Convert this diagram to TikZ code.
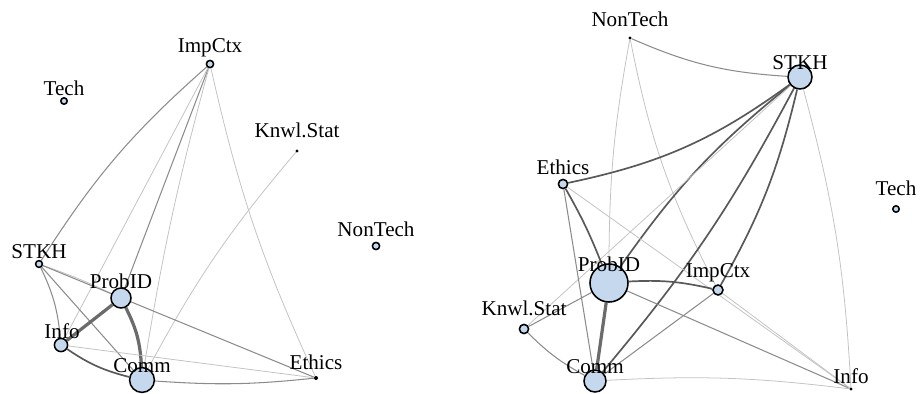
\documentclass[tikz,border=0pt]{standalone}
\usepackage{fontspec}
\setmainfont{Liberation Serif}
\usepackage{tikz}
\usetikzlibrary{backgrounds}
\definecolor{nodeblue}{RGB}{197,216,238}
\tikzset{
  vtx/.style={shape=circle,draw=black,fill=nodeblue,inner sep=0pt,line width=1.1pt},
  dot/.style={shape=circle,fill=black,inner sep=0pt,minimum size=0.08cm},
  lbl/.style={anchor=base,inner sep=0pt,font=\fontsize{15}{15}\selectfont},
  light/.style={draw=black!24,line width=0.55pt},
  mid/.style={draw=black!45,line width=0.75pt},
  dark/.style={draw=black!65,line width=1.2pt},
  heavy/.style={draw=black!58,line width=2.3pt}
}

\begin{document}
\begin{tikzpicture}[x=0.025cm,y=-0.025cm]
\useasboundingbox (0,0) rectangle (922,394);
% left network
\node[vtx,minimum size=0.18cm] (limp) at (210,64) {};
\node[vtx,minimum size=0.16cm] (ltech) at (64,101) {};
\node[dot] (lknwl) at (297,151) {};
\node[vtx,minimum size=0.18cm] (lnon) at (376,246) {};
\node[vtx,minimum size=0.17cm] (lstkh) at (39,264) {};
\node[vtx,minimum size=0.5cm] (lprob) at (121,298) {};
\node[vtx,minimum size=0.33cm] (linfo) at (61,345) {};
\node[vtx,minimum size=0.62cm] (lcomm) at (142,380) {};
\node[dot,minimum size=0.1cm] (leth) at (316,378) {};
% right network
\node[dot] (rnon) at (630,38) {};
\node[vtx,minimum size=0.6cm] (rstkh) at (800,77) {};
\node[vtx,minimum size=0.23cm] (reth) at (563,184) {};
\node[vtx,minimum size=0.16cm] (rtech) at (896,209) {};
\node[vtx,minimum size=0.95cm] (rprob) at (609,283) {};
\node[vtx,minimum size=0.25cm] (rimp) at (718,290) {};
\node[vtx,minimum size=0.23cm] (rknwl) at (524,329) {};
\node[vtx,minimum size=0.55cm] (rcomm) at (595,381) {};
\node[dot] (rinfo) at (851,389) {};
\begin{scope}[on background layer]
\path (limp) edge[mid,bend right=8] (lstkh);
\path (limp) edge[mid] (lprob);
\path (limp) edge[light] (linfo);
\path (limp) edge[light,bend right=3] (lcomm);
\path (limp) edge[light,bend right=6] (leth);
\path (lknwl) edge[light,bend right=6] (lcomm);
\path (lstkh) edge[light,bend left=3] (lprob);
\path (lstkh) edge[mid] (leth);
\path (lstkh) edge[mid] (lcomm);
\path (lstkh) edge[mid,bend left=10] (linfo);
\path (lprob) edge[heavy] (linfo);
\path (lprob) edge[heavy,bend left=12] (lcomm);
\path (linfo) edge[dark,bend right=10] (lcomm);
\path (linfo) edge[light] (leth);
\path (lcomm) edge[mid,bend right=5] (leth);
\path (rnon) edge[mid,bend right=10] (rstkh);
\path (rnon) edge[light,bend right=5] (rprob);
\path (rnon) edge[light,bend right=8] (rimp);
\path (rstkh) edge[dark,bend left=12] (reth);
\path (rstkh) edge[dark,bend right=8] (rprob);
\path (rstkh) edge[light] (rknwl);
\path (rstkh) edge[dark,bend left=6] (rcomm);
\path (rstkh) edge[dark,bend left=8] (rimp);
\path (rstkh) edge[light,bend left=6] (rinfo);
\path (reth) edge[dark,bend left=4] (rprob);
\path (reth) edge[mid] (rcomm);
\path (reth) edge[light] (rinfo);
\path (rprob) edge[dark,bend left=8] (rimp);
\path (rprob) edge[heavy] (rcomm);
\path (rprob) edge[mid] (rinfo);
\path (rknwl) edge[mid] (rprob);
\path (rknwl) edge[mid,bend right=8] (rcomm);
\path (rimp) edge[mid] (rcomm);
\path (rimp) edge[light] (rinfo);
\path (rcomm) edge[light,bend left=5] (rinfo);
\end{scope}
% labels
\node[lbl] (limp-t) at (210,53) {ImpCtx};
\node[lbl] (ltech-t) at (64,96) {Tech};
\node[lbl] (lknwl-t) at (297,138) {Knwl.Stat};
\node[lbl] (lnon-t) at (376,236) {NonTech};
\node[lbl] (lstkh-t) at (39,258) {STKH};
\node[lbl] (lprob-t) at (121,288) {ProbID};
\node[lbl] (linfo-t) at (62,338) {Info};
\node[lbl] (lcomm-t) at (142,372) {Comm};
\node[lbl] (leth-t) at (316,369) {Ethics};
\node[lbl] (rnon-t) at (630,27) {NonTech};
\node[lbl] (rstkh-t) at (800,70) {STKH};
\node[lbl] (reth-t) at (563,174) {Ethics};
\node[lbl] (rtech-t) at (896,195) {Tech};
\node[lbl] (rprob-t) at (609,271) {ProbID};
\node[lbl] (rimp-t) at (718,277) {ImpCtx};
\node[lbl] (rknwl-t) at (524,315) {Knwl.Stat};
\node[lbl] (rcomm-t) at (595,373) {Comm};
\node[lbl] (rinfo-t) at (851,383) {Info};
\end{tikzpicture}
\end{document}
